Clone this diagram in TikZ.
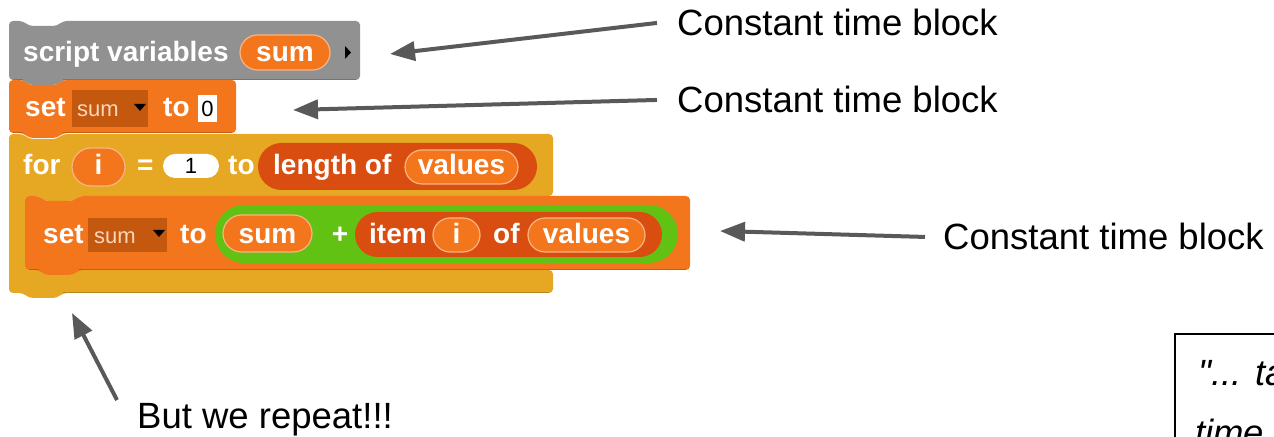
\documentclass[tikz,border=0pt]{standalone}
\usepackage{fontspec}
\setmainfont{Liberation Sans}
\newfontfamily\plainsans{Liberation Sans}[Ligatures=TeXOff]
\usetikzlibrary{arrows.meta}

\definecolor{ctrlgold}{RGB}{230,168,34}
\definecolor{varorange}{RGB}{243,118,29}
\definecolor{listred}{RGB}{217,77,17}
\definecolor{opgreen}{RGB}{98,194,19}
\definecolor{othergray}{RGB}{145,145,145}
\definecolor{slotdark}{RGB}{196,88,14}
\definecolor{slottext}{RGB}{252,214,186}
\definecolor{arrowgray}{RGB}{89,89,89}

\tikzset{
  blk/.style={font=\fontsize{28bp}{33bp}\bfseries\selectfont, text=white, inner sep=0pt, anchor=base west},
  blkc/.style={blk, anchor=base},
  slot/.style={font=\fontsize{22bp}{26bp}\selectfont, inner sep=0pt, anchor=base west},
  slotc/.style={slot, anchor=base},
  note/.style={font=\fontsize{36.5bp}{44bp}\selectfont, inner sep=0pt, anchor=base west},
  quotetext/.style={font=\fontsize{36.5bp}{44bp}\plainsans\itshape\selectfont, inner sep=0pt, anchor=base west},
  pointer/.style={draw=arrowgray, line width=4bp, -{Triangle[length=25bp,width=19bp]}},
  ring/.style={draw=#1!55!white, line width=1.2bp},
}

% command block with top notch and bottom tab: left, top, right, bottom, colour
\newcommand\cmdshape[5]{%
  \fill[#5, rounded corners=4bp]
    (#1,#2) -- ({#1+14},#2) -- ({#1+20},{#2+5}) -- ({#1+48},{#2+5}) -- ({#1+54},#2)
    -- (#3,#2) -- (#3,#4)
    -- ({#1+54},#4) -- ({#1+48},{#4+5}) -- ({#1+20},{#4+5}) -- ({#1+14},#4)
    -- (#1,#4) -- cycle;
  \draw[#5!80!black, line width=1.2bp] ({#1+4},{#4-0.6}) -- ({#1+14},{#4-0.6});
  \draw[#5!80!black, line width=1.2bp] ({#1+54},{#4-0.6}) -- ({#3-4},{#4-0.6});}

% rounded reporter: left, top, right, bottom, radius, fill options
\newcommand\pillshape[6]{%
  \path[#6, rounded corners=#5bp] (#1,#2) rectangle (#3,#4);}

\begin{document}
\begin{tikzpicture}[x=1bp,y=-1bp]
\useasboundingbox (0,0) rectangle (1274,437);
\clip (0,0) rectangle (1274,437);

% ---- script variables (sum)
\cmdshape{9}{21}{360}{80}{othergray}
\node[blk] (sv) at (23,62) {script variables};
\pillshape{240}{35}{330}{70}{17.5}{fill=varorange, ring=varorange}
\node[blkc] (svsum) at (285,62) {sum};
\fill[black] (345,46) -- (351,52.5) -- (345,59) -- cycle;

% ---- set sum to 0
\cmdshape{9}{80}{236}{133}{varorange}
\node[blk] (set1) at (25,117) {set};
\fill[slotdark] (72,90) rectangle (148,127);
\node[slot, text=slottext] (var1) at (77,117) {sum};
\fill[black] (134,104) -- (146,104) -- (140,111) -- cycle;
\node[blk] (to1) at (163,117) {to};
\fill[white] (198,95) rectangle (217,122);
\node[slotc] (zero) at (207.5,117) {0};

% ---- for i = 1 to length of values (C-shaped block)
\fill[ctrlgold, rounded corners=4bp]
  (9,134) -- (23,134) -- (29,139) -- (57,139) -- (63,134) -- (553,134)
  -- (553,196) -- (79,196) -- (73,201) -- (45,201) -- (39,196) -- (25,196)
  -- (25,270) -- (553,270) -- (553,293)
  -- (63,293) -- (57,298) -- (29,298) -- (23,293) -- (9,293) -- cycle;
\draw[ctrlgold!80!black, line width=1.2bp] (63,292.4) -- (549,292.4);
\node[blk] (for) at (23,175) {for};
\pillshape{72}{148}{125}{186}{19}{fill=varorange, ring=varorange}
\node[blkc] (iter) at (98.5,175) {i};
\node[blk] (eq) at (137,175) {=};
\pillshape{163}{154}{219}{178}{12}{fill=white}
\node[slotc] (one) at (191,174) {1};
\node[blk] (to2) at (228,175) {to};
\pillshape{258}{143}{537}{190}{23.5}{fill=listred}
\node[blk] (len) at (273,175) {length of};
\pillshape{405}{150}{518}{184}{17}{fill=varorange, ring=varorange}
\node[blkc] (vals1) at (461.5,175) {values};

% ---- set sum to (sum + item i of values)
\cmdshape{25}{196}{690}{270}{varorange}
\node[blk] (set2) at (43,244) {set};
\fill[slotdark] (88,218) rectangle (167,252);
\node[slot, text=slottext] (var2) at (94,244) {sum};
\fill[black] (153,230) -- (165,230) -- (159,237) -- cycle;
\node[blk] (to3) at (180,244) {to};
\pillshape{215}{205}{678}{263}{29}{fill=opgreen}
\pillshape{223}{215}{312}{252}{18.5}{fill=varorange, ring=varorange}
\node[blkc] (sum2) at (267.5,244) {sum};
\node[blkc] (plus) at (340,244) {+};
\pillshape{355}{212}{662}{257}{22.5}{fill=listred}
\node[blk] (item) at (369,244) {item};
\pillshape{433}{218}{480}{252}{17}{fill=varorange, ring=varorange}
\node[blkc] (idx) at (456.5,244) {i};
\node[blk] (of2) at (493,244) {of};
\pillshape{528}{218}{645}{252}{17}{fill=varorange, ring=varorange}
\node[blkc] (vals2) at (586.5,244) {values};

% ---- annotations
\node[note] (c1) at (677,36) {Constant time block};
\node[note] (c2) at (677,113) {Constant time block};
\node[note] (c3) at (943,250) {Constant time block};
\node[note] (rep) at (137,429) {But we repeat!!!};

\coordinate (t1) at (390,54);
\coordinate (t2) at (293,110);
\coordinate (t3) at (720,231);
\coordinate (t4) at (72,313);
\coordinate (s4) at (117,400);

\draw[pointer] ([xshift=-20bp]c1.west) -- (t1);
\draw[pointer] ([xshift=-20bp]c2.west) -- (t2);
\draw[pointer] ([xshift=-18bp]c3.west) -- (t3);
\draw[pointer] (s4) -- (t4);

% ---- quotation box
\draw[black, line width=2.5bp] (1175,334) rectangle (1320,480);
\node[quotetext] (q1) at (1198,386) {"... ta};
\node[quotetext] (q2) at (1195,446) {time};
\end{tikzpicture}
\end{document}
